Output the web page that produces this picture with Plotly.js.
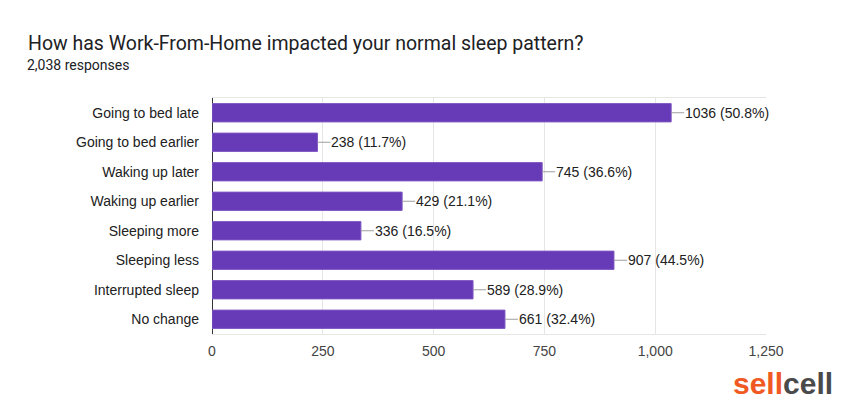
<!DOCTYPE html>
<html><head><meta charset="utf-8">
<script src="https://cdn.plot.ly/plotly-3.0.1.min.js"></script>
<style>body{margin:0;background:#fff}#chart{width:850px;height:404px}</style>
</head><body><div id="chart"></div>
<script>
const categories = ["Going to bed late","Going to bed earlier","Waking up later","Waking up earlier","Sleeping more","Sleeping less","Interrupted sleep","No change"];
const counts = [1036, 238, 745, 429, 336, 907, 589, 661];
const percents = ["50.8%","11.7%","36.6%","21.1%","16.5%","44.5%","28.9%","32.4%"];
const xTicks = [0, 250, 500, 750, 1000, 1250];
const xTickLabels = ["0","250","500","750","1,000","1,250"];

const annotations = categories.map((c, i) => ({
  x: counts[i], y: c, xref: 'x', yref: 'y',
  text: counts[i] + ' (' + percents[i] + ')',
  showarrow: true, arrowhead: 0, arrowwidth: 1, arrowcolor: '#9e9e9e',
  ax: 13, ay: 0, xanchor: 'left', borderpad: 0,
  font: {family: 'Arial, Liberation Sans, sans-serif', size: 14, color: '#212121'}
}));
annotations.push({
  xref: 'paper', yref: 'paper', x: 1.1245, y: -0.13, xanchor: 'right', yanchor: 'top',
  showarrow: false,
  text: "<b><span style='color:#f05a22'>sell</span><span style='color:#4a4a4a'>cell</span></b>",
  font: {family: 'Arial, Liberation Sans, sans-serif', size: 30}
});
annotations.push({
  xref: 'paper', yref: 'paper', x: -0.3375, y: 1.14, xanchor: 'left', yanchor: 'middle',
  showarrow: false, text: '2,038 responses',
  font: {family: 'Roboto, Arial, sans-serif', size: 14, color: '#202124'}
});

Plotly.newPlot('chart', [{
  type: 'bar', orientation: 'h', x: counts, y: categories,
  marker: {color: '#673ab7', line: {color: '#7e57c2', width: 1}},
  width: 0.62, hoverinfo: 'none'
}], {
  width: 850, height: 404,
  margin: {l: 212, r: 84, t: 98, b: 70},
  paper_bgcolor: '#fff', plot_bgcolor: '#fff',
  title: {text: 'How has Work-From-Home impacted your normal sleep pattern?', x: 28/850, xanchor: 'left', y: 1 - 43/404, yanchor: 'middle',
    font: {family: 'Roboto, Arial, sans-serif', size: 19.5, color: '#202124'}},
  xaxis: {range: [0, 1250], tickvals: xTicks, ticktext: xTickLabels, showgrid: true, gridcolor: '#e6e6e6',
    showline: true, linecolor: '#e6e6e6', mirror: true, zeroline: true, zerolinecolor: '#333', zerolinewidth: 1,
    ticks: '', ticklen: 0, ticklabelstandoff: 4, tickfont: {family: 'Arial, Liberation Sans, sans-serif', size: 14, color: '#444'}, fixedrange: true},
  yaxis: {autorange: 'reversed', showgrid: false, showline: false, zeroline: false, ticks: '', ticklabelstandoff: 12,
    tickfont: {family: 'Arial, Liberation Sans, sans-serif', size: 14, color: '#212121'}, fixedrange: true},
  annotations: annotations,
  showlegend: false, bargap: 0.38
}, {displayModeBar: false, staticPlot: true});
</script></body></html>
